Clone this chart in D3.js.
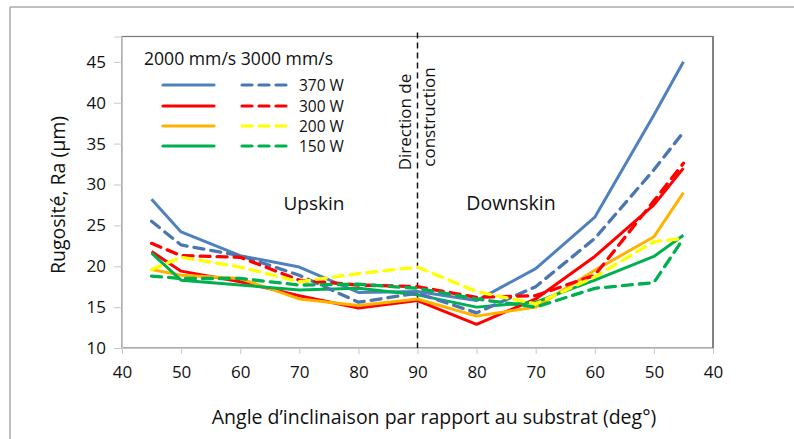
<!DOCTYPE html>
<html><head><meta charset="utf-8">
<script src="https://cdn.jsdelivr.net/npm/d3@7"></script>
<style>body{margin:0;background:#fff}svg{display:block}text{font-family:"Open Sans",sans-serif;fill:#111}</style>
</head><body><svg id="c" width="794" height="439"></svg>
<script>
// Angles: upskin 45..90 then downskin 80..45
const sides = ["up","up","up","up","up","up","down","down","down","down","down"];
const angles = [45,50,60,70,80,90,80,70,60,50,45];
const xTicks = [40,50,60,70,80,90,100,110,120,130,140];
const xTickLabels = ["40","50","60","70","80","90","80","70","60","50","40"];
const yTicks = [10,15,20,25,30,35,40,45];
const powers = ["370 W","300 W","200 W","150 W"];
const s370_2000 = [28.2,24.2,21.3,19.9,16.8,16.9,15.8,19.7,26.0,38.5,45.0];
const s370_3000 = [25.5,22.6,21.3,18.9,15.6,16.7,14.3,17.5,23.4,31.8,36.4];
const s300_2000 = [21.8,19.4,18.1,16.4,14.9,15.8,12.9,16.0,21.2,27.5,32.0];
const s300_3000 = [22.8,21.3,21.1,18.3,17.7,17.5,16.2,16.4,18.9,28.0,32.6];
const s200_2000 = [19.6,18.9,18.5,16.0,15.2,16.0,13.9,15.0,19.5,23.6,29.0];
const s200_3000 = [19.6,21.1,19.9,18.1,19.1,19.9,16.9,15.4,18.7,23.0,23.4];
const s150_2000 = [21.6,18.3,17.7,17.1,17.3,16.5,15.0,15.6,18.3,21.2,23.8];
const s150_3000 = [18.8,18.5,18.5,17.7,17.8,17.3,16.0,15.0,17.3,18.0,23.4];

const colsSolid = ["#4F81BD","#FF0000","#FFB300","#00B050"];
const colsDash  = ["#4A77B0","#FF0000","#FFFF00","#00B050"];
const solids = [s370_2000,s300_2000,s200_2000,s150_2000];
const dashes = [s370_3000,s300_3000,s200_3000,s150_3000];

const svg = d3.select("#c");
// outer border
svg.append("line").attr("x1",10).attr("x2",794).attr("y1",7).attr("y2",7).attr("stroke","#aaa").attr("stroke-width",1.5);
svg.append("line").attr("x1",10).attr("x2",10).attr("y1",7).attr("y2",439).attr("stroke","#aaa").attr("stroke-width",1.5);

const L=122, R=713, T=36.5, B=348;
const x = d3.scaleLinear().domain([40,140]).range([L,R]);
const y = d3.scaleLinear().domain([10,48.1]).range([B,T]);
const pos = (a,i)=> sides[i]==="up" ? a : 180-a;

// frame
svg.append("rect").attr("x",L).attr("y",T).attr("width",R-L).attr("height",B-T).attr("fill","none").attr("stroke","#777").attr("stroke-width",1.2);

// axes
const ya = svg.append("g").attr("transform",`translate(${L},0)`)
  .call(d3.axisLeft(y).tickValues(yTicks).tickSize(8).tickPadding(8));
ya.select(".domain").attr("stroke","#c8c8c8");
ya.selectAll(".tick line").attr("stroke","#c8c8c8");
ya.selectAll("text").style("font-size","17px").attr("fill","#111");
const xa = svg.append("g").attr("transform",`translate(0,${B})`)
  .call(d3.axisBottom(x).tickValues(xTicks).tickFormat((d,i)=>xTickLabels[i]).tickSize(6).tickPadding(12));
xa.select(".domain").attr("stroke","#c8c8c8");
xa.selectAll(".tick line").attr("stroke","#c8c8c8");
xa.selectAll("text").style("font-size","17px").attr("fill","#111");
svg.append("line").attr("x1",R).attr("x2",R).attr("y1",T).attr("y2",B).attr("stroke","#666").attr("stroke-width",1.2);

// vertical direction line
svg.append("line").attr("x1",x(90)).attr("x2",x(90)).attr("y1",T-4).attr("y2",B)
  .attr("stroke","#111").attr("stroke-width",1.5).attr("stroke-dasharray","6,4");

const line = d3.line().x((d,i)=>x(pos(angles[i],i))).y(d=>y(d));
const g = svg.append("g");
solids.forEach((s,k)=>g.append("path").attr("d",line(s)).attr("fill","none").attr("stroke",colsSolid[k]).attr("stroke-width",3).attr("stroke-linejoin","round"));
dashes.forEach((s,k)=>g.append("path").attr("d",line(s)).attr("fill","none").attr("stroke",colsDash[k]).attr("stroke-width",3.3).attr("stroke-dasharray","10,7").attr("stroke-linecap","round").attr("stroke-linejoin","round"));

// legend
svg.append("text").attr("x",144).attr("y",65).style("font-size","17.6px").text("2000 mm/s 3000 mm/s");
const rows=[85,106,126,146];
powers.forEach((p,k)=>{
  svg.append("line").attr("x1",163).attr("x2",214).attr("y1",rows[k]).attr("y2",rows[k]).attr("stroke",colsSolid[k]).attr("stroke-width",3.2).attr("stroke-linecap","round");
  svg.append("line").attr("x1",242).attr("x2",288).attr("y1",rows[k]).attr("y2",rows[k]).attr("stroke",colsDash[k]).attr("stroke-width",3.2).attr("stroke-dasharray","10,7").attr("stroke-linecap","round");
  svg.append("text").attr("x",299).attr("y",rows[k]+5.5).style("font-size","15.5px").text(p);
});

// annotations
svg.append("text").attr("transform",`translate(${x(90)-7},122) rotate(-90)`).attr("text-anchor","middle").style("font-size","17px").text("Direction de");
svg.append("text").attr("transform",`translate(${x(90)+17},117) rotate(-90)`).attr("text-anchor","middle").style("font-size","17px").text("construction");
svg.append("text").attr("x",314).attr("y",210).attr("text-anchor","middle").style("font-size","19px").text("Upskin");
svg.append("text").attr("x",511).attr("y",210).attr("text-anchor","middle").style("font-size","19.5px").text("Downskin");

// titles
svg.append("text").attr("transform","translate(65,195) rotate(-90)").attr("text-anchor","middle").style("font-size","19.5px").text("Rugosité, Ra (µm)");
svg.append("text").attr("x",434).attr("y",424).attr("text-anchor","middle").style("font-size","19.5px").text("Angle d’inclinaison par rapport au substrat (deg°)");
</script></body></html>
